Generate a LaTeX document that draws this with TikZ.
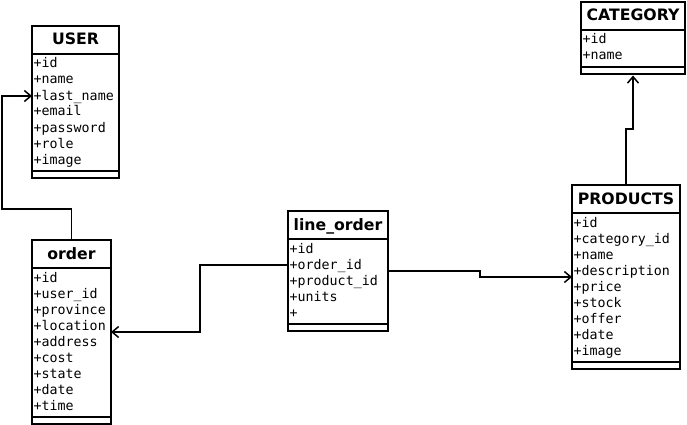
\documentclass[tikz,border=0pt]{standalone}
\usepackage{fontspec}
\setmainfont{DejaVu Sans}
\newfontfamily\monof{DejaVu Sans Mono}
\usetikzlibrary{arrows.meta,calc}
\tikzset{
  boxline/.style={line width=1.6pt},
  clsbox/.style={draw, line width=1.6pt, rectangle, inner sep=0pt, outer sep=0pt, fill=white},
  clstitle/.style={inner sep=0pt, font=\bfseries\fontsize{15.7}{18}\selectfont},
  field/.style={inner sep=0pt, font=\monof\fontsize{13.3}{16}\selectfont},
  conn/.style={line width=1.6pt, -{Straight Barb[length=6.5pt,width=11pt,line width=1.5pt]}},
}
\newcommand\umlclass[6]{%
  \xdef\nf{0}%
  \foreach \f [count=\i] in {#6} {\xdef\nf{\i}}%
  \pgfmathsetmacro\bot{#3+28+13+16*(\nf-1)+8+7}%
  \node[clsbox, minimum width={#4-#2}, minimum height={\bot-#3}, anchor=north west] (#1) at (#2,#3) {};
  \node[clstitle, anchor=base] (#1-title) at ({(#2+#4)/2},{#3+19}) {#5};
  \draw[boxline] (#2,{#3+28}) -- (#4,{#3+28});
  \foreach \f [count=\i] in {#6} {\node[field, anchor=base west] (#1-f\i) at ({#2+1.5},{#3+28+14+16*(\i-1)}) {\f};}
  \draw[boxline] (#2,{\bot-7}) -- (#4,{\bot-7});
}
\begin{document}
\begin{tikzpicture}[x=1pt,y=-1pt]
\useasboundingbox[fill=white] (0,0) rectangle (687,425);
\umlclass{user}{32}{26}{119}{USER}{+id,+name,+last\_name,+email,+password,+role,+image}
\umlclass{order}{32}{240}{111}{order}{+id,+user\_id,+province,+location,+address,+cost,+state,+date,+time}
\umlclass{lineorder}{288}{211}{388}{line\_order}{+id,+order\_id,+product\_id,+units,+}
\umlclass{category}{581}{2}{685}{CATEGORY}{+id,+name}
\umlclass{products}{572}{185}{680}{PRODUCTS}{+id,+category\_id,+name,+description,+price,+stock,+offer,+date,+image}
\coordinate (userin) at (32,96);
\coordinate (loout) at (288,265);
\coordinate (b1) at (2,209);
\coordinate (b2) at (200,265);
\coordinate (b3) at (480,271);
\coordinate (b4) at (630,129);
\draw[conn] (order.north) |- (b1) |- (userin);
\draw[conn] (loout) -- (b2) |- (order.east);
\draw[conn] (lineorder.east) -- (b3) |- (products.west);
\draw[conn, shorten >=1.5pt] (products.north) |- (b4) -| (category.south);
\end{tikzpicture}
\end{document}
